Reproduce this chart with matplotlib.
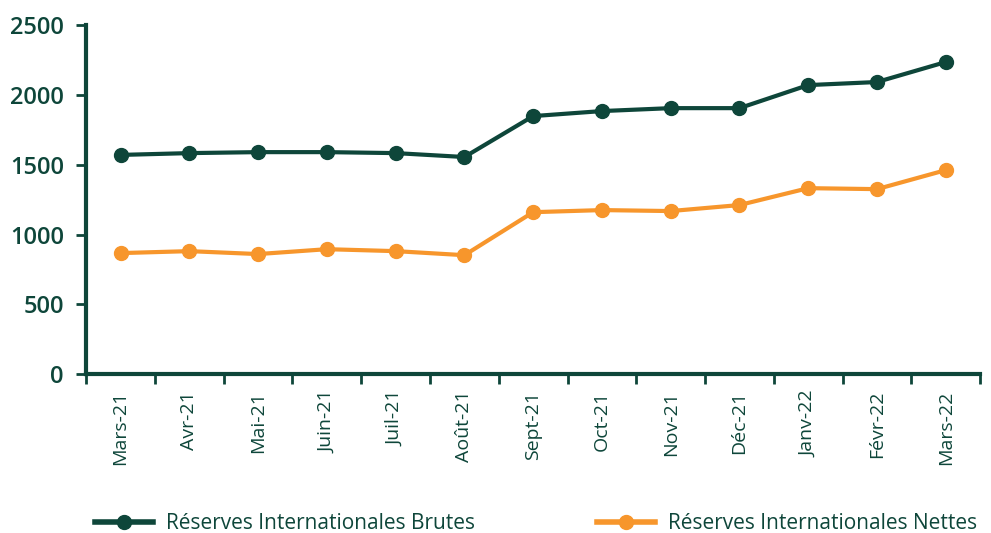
import matplotlib.pyplot as plt
from matplotlib.lines import Line2D
import numpy as np

months = ["Mars-21", "Avr-21", "Mai-21", "Juin-21", "Juil-21", "Août-21", "Sept-21",
          "Oct-21", "Nov-21", "Déc-21", "Janv-22", "Févr-22", "Mars-22"]
brutes = [1570, 1583, 1590, 1590, 1583, 1555, 1848, 1884, 1905, 1905, 2070, 2092, 2235]
nettes = [867, 881, 860, 895, 881, 852, 1160, 1175, 1168, 1211, 1332, 1325, 1461]
series_names = ["Réserves Internationales Brutes", "Réserves Internationales Nettes"]

green = "#0e463a"
orange = "#f7962c"

plt.rcParams['font.family'] = ['Open Sans', 'DejaVu Sans']

fig = plt.figure(figsize=(9.91, 5.33), dpi=100)
ax = fig.add_axes([0.087, 0.298, 0.902, 0.655])

x = np.arange(len(months))
ax.plot(x, brutes, color=green, lw=3, marker='o', ms=10, zorder=3)
ax.plot(x, nettes, color=orange, lw=3, marker='o', ms=10, zorder=3)

ax.set_xlim(-0.5, len(months) - 0.5)
ax.set_ylim(0, 2500)
ax.set_yticks([0, 500, 1000, 1500, 2000, 2500])

ax.set_xticks(x)
ax.set_xticklabels(months, rotation=90, fontsize=14, color=green)
ax.tick_params(axis='x', which='major', length=0, pad=12)
ax.set_xticks(np.arange(-0.5, len(months)), minor=True)
ax.tick_params(axis='x', which='minor', length=7, width=2, color=green)

ax.tick_params(axis='y', length=7, width=2, color=green, labelsize=17, labelcolor=green, pad=9)
for lab in ax.get_yticklabels():
    lab.set_fontweight('semibold')

for s in ['top', 'right']:
    ax.spines[s].set_visible(False)
for s in ['left', 'bottom']:
    ax.spines[s].set_color(green)
    ax.spines[s].set_linewidth(3)

for col, name, xpos in [(green, series_names[0], 95 / 991), (orange, series_names[1], 597 / 991)]:
    h = Line2D([], [], color=col, lw=4, marker='o', ms=10)
    fig.legend([h], [name], loc='center left', bbox_to_anchor=(xpos, 0.018), frameon=False,
               fontsize=15, labelcolor=green, handlelength=2.8, handletextpad=0.6, borderpad=0,
               borderaxespad=0)

fig.savefig("out.png", dpi=100)
